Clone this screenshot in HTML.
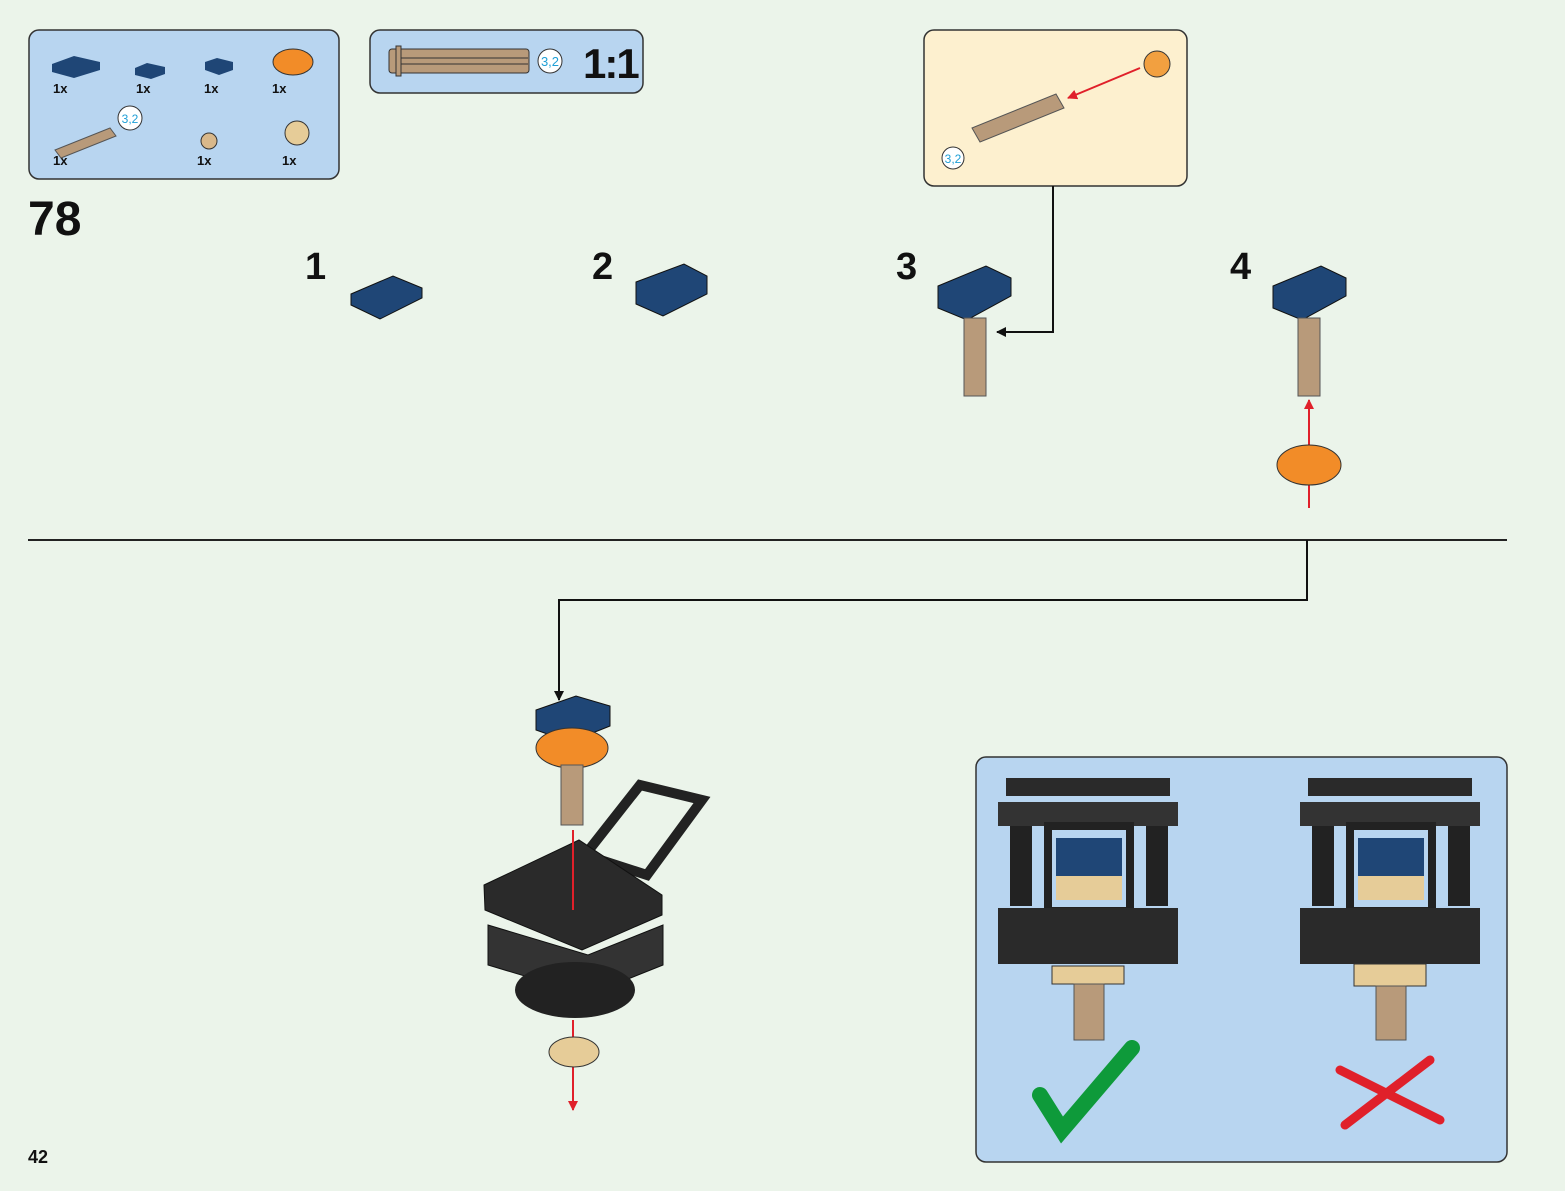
<!DOCTYPE html>
<html><head><meta charset="utf-8"><style>
html,body{margin:0;padding:0;background:#ebf4ea;}
svg{display:block;font-family:"Liberation Sans",sans-serif;}
</style></head><body>
<svg width="1565" height="1191" viewBox="0 0 1565 1191" xmlns="http://www.w3.org/2000/svg">
<rect width="1565" height="1191" fill="#ebf4ea"/>
<defs>
<marker id="ab" markerWidth="10" markerHeight="10" refX="9" refY="5" orient="auto" markerUnits="userSpaceOnUse" viewBox="0 0 10 10"><path d="M0,0L10,5L0,10z" fill="#111"/></marker>
<marker id="ar" markerWidth="10" markerHeight="10" refX="9" refY="5" orient="auto" markerUnits="userSpaceOnUse" viewBox="0 0 10 10"><path d="M0,0L10,5L0,10z" fill="#e0202a"/></marker>
</defs>
<!-- parts box -->
<rect x="29" y="30" width="310" height="149" rx="10" fill="#b8d5f0" stroke="#333" stroke-width="1.5"/>
<g fill="#1f4676"><path d="M52,64l22,-8l26,6l0,8l-26,8l-22,-6z"/><path d="M135,68l12,-5l18,4v7l-14,5l-16,-4z"/><path d="M205,62l12,-4l16,4v8l-14,5l-14,-5z"/></g>
<ellipse cx="293" cy="62" rx="20" ry="13" fill="#f28c28" stroke="#333"/>
<g font-weight="bold" font-size="13" fill="#111"><text x="53" y="93">1x</text><text x="136" y="93">1x</text><text x="204" y="93">1x</text><text x="272" y="93">1x</text><text x="53" y="165">1x</text><text x="197" y="165">1x</text><text x="282" y="165">1x</text></g>
<path d="M55,150l55,-22l6,8l-55,22z" fill="#b89a7a" stroke="#555"/>
<circle cx="130" cy="118" r="12" fill="#fff" stroke="#333"/><text x="130" y="123" font-size="12" fill="#1e9fd6" text-anchor="middle">3,2</text>
<circle cx="209" cy="141" r="8" fill="#d9b88a" stroke="#333"/>
<circle cx="297" cy="133" r="12" fill="#e6cc98" stroke="#333"/>
<!-- 1:1 box -->
<rect x="370" y="30" width="273" height="63" rx="10" fill="#b8d5f0" stroke="#333" stroke-width="1.5"/>
<rect x="389" y="49" width="140" height="24" rx="3" fill="#b89a7a" stroke="#333"/>
<rect x="396" y="46" width="5" height="30" fill="#b89a7a" stroke="#333"/>
<line x1="401" y1="58" x2="528" y2="58" stroke="#333"/><line x1="401" y1="64" x2="528" y2="64" stroke="#333"/>
<circle cx="550" cy="61" r="12" fill="#fff" stroke="#333"/><text x="550" y="66" font-size="13" fill="#1e9fd6" text-anchor="middle">3,2</text>
<text x="583" y="78" font-size="42" font-weight="bold" fill="#111" letter-spacing="-2">1:1</text>
<!-- callout -->
<rect x="924" y="30" width="263" height="156" rx="10" fill="#fdf0cf" stroke="#333" stroke-width="1.5"/>
<path d="M972,128l84,-34l8,14l-84,34z" fill="#b89a7a" stroke="#555"/>
<line x1="1140" y1="68" x2="1068" y2="98" stroke="#e0202a" stroke-width="2" marker-end="url(#ar)"/>
<circle cx="1157" cy="64" r="13" fill="#f2a040" stroke="#333"/>
<circle cx="953" cy="158" r="11" fill="#fff" stroke="#333"/><text x="953" y="163" font-size="12" fill="#1e9fd6" text-anchor="middle">3,2</text>
<polyline points="1053,186 1053,332 997,332" fill="none" stroke="#111" stroke-width="2" marker-end="url(#ab)"/>
<text x="28" y="235" font-size="48" font-weight="bold" fill="#111">78</text>
<g font-size="38" font-weight="bold" fill="#111"><text x="305" y="279">1</text><text x="592" y="279">2</text><text x="896" y="279">3</text><text x="1230" y="279">4</text></g>
<!-- bricks -->
<path d="M351,294l42,-18l29,12v10l-42,21l-29,-14z" fill="#1f4676" stroke="#111"/>
<path d="M636,282l48,-18l23,12v18l-44,22l-27,-12z" fill="#1f4676" stroke="#111"/>
<path d="M938,286l48,-20l25,12v18l-44,24l-29,-12z" fill="#1f4676" stroke="#111"/>
<rect x="964" y="318" width="22" height="78" fill="#b89a7a" stroke="#555"/>
<path d="M1273,286l48,-20l25,12v18l-44,24l-29,-12z" fill="#1f4676" stroke="#111"/>
<rect x="1298" y="318" width="22" height="78" fill="#b89a7a" stroke="#555"/>
<line x1="1309" y1="508" x2="1309" y2="400" stroke="#e0202a" stroke-width="2" marker-end="url(#ar)"/>
<ellipse cx="1309" cy="465" rx="32" ry="20" fill="#f28c28" stroke="#333"/>
<line x1="28" y1="540" x2="1507" y2="540" stroke="#222" stroke-width="2"/>
<polyline points="1307,540 1307,600 559,600 559,700" fill="none" stroke="#111" stroke-width="2" marker-end="url(#ab)"/>
<!-- main model -->
<path d="M536,710l40,-14l34,10v20l-40,16l-34,-12z" fill="#1f4676" stroke="#111"/>
<ellipse cx="572" cy="748" rx="36" ry="20" fill="#f28c28" stroke="#333"/>
<rect x="561" y="765" width="22" height="60" fill="#b89a7a" stroke="#555"/>
<path d="M585,855l55,-70l62,15l-55,75z" fill="none" stroke="#222" stroke-width="10"/>
<path d="M484,885l95,-45l83,55v20l-80,35l-97,-40z" fill="#2a2a2a" stroke="#111"/>
<path d="M488,925l100,30l75,-30v40l-75,30l-100,-30z" fill="#333" stroke="#111"/>
<ellipse cx="575" cy="990" rx="60" ry="28" fill="#222"/>
<line x1="573" y1="830" x2="573" y2="910" stroke="#e0202a" stroke-width="2"/>
<line x1="573" y1="1020" x2="573" y2="1110" stroke="#e0202a" stroke-width="2" marker-end="url(#ar)"/>
<ellipse cx="574" cy="1052" rx="25" ry="15" fill="#e6cc98" stroke="#333"/>
<!-- check panel -->
<rect x="976" y="757" width="531" height="405" rx="10" fill="#b8d5f0" stroke="#333" stroke-width="1.5"/>
<g>
<rect x="1006" y="778" width="164" height="18" fill="#2a2a2a"/><rect x="998" y="802" width="180" height="24" fill="#333"/>
<rect x="1010" y="826" width="22" height="80" fill="#222"/><rect x="1146" y="826" width="22" height="80" fill="#222"/>
<rect x="1048" y="826" width="82" height="85" fill="none" stroke="#222" stroke-width="8"/>
<rect x="1056" y="838" width="66" height="38" fill="#1f4676"/><rect x="1056" y="876" width="66" height="24" fill="#e6cc98"/>
<rect x="998" y="908" width="180" height="56" fill="#2a2a2a"/>
<rect x="1052" y="966" width="72" height="18" fill="#e6cc98" stroke="#333"/>
<rect x="1074" y="984" width="30" height="56" fill="#b89a7a" stroke="#555"/>
</g>
<g transform="translate(302,0)">
<rect x="1006" y="778" width="164" height="18" fill="#2a2a2a"/><rect x="998" y="802" width="180" height="24" fill="#333"/>
<rect x="1010" y="826" width="22" height="80" fill="#222"/><rect x="1146" y="826" width="22" height="80" fill="#222"/>
<rect x="1048" y="826" width="82" height="85" fill="none" stroke="#222" stroke-width="8"/>
<rect x="1056" y="838" width="66" height="38" fill="#1f4676"/><rect x="1056" y="876" width="66" height="24" fill="#e6cc98"/>
<rect x="998" y="908" width="180" height="56" fill="#2a2a2a"/>
<rect x="1052" y="964" width="72" height="22" fill="#e6cc98" stroke="#333"/>
<rect x="1074" y="986" width="30" height="54" fill="#b89a7a" stroke="#555"/>
</g>
<path d="M1040,1095l22,35l70,-82" fill="none" stroke="#0e9a3a" stroke-width="16" stroke-linecap="round"/>
<path d="M1340,1070l100,50M1430,1060l-85,65" fill="none" stroke="#e0202a" stroke-width="9" stroke-linecap="round"/>
<text x="28" y="1163" font-size="18" font-weight="bold" fill="#111">42</text>
</svg>
</body></html>
